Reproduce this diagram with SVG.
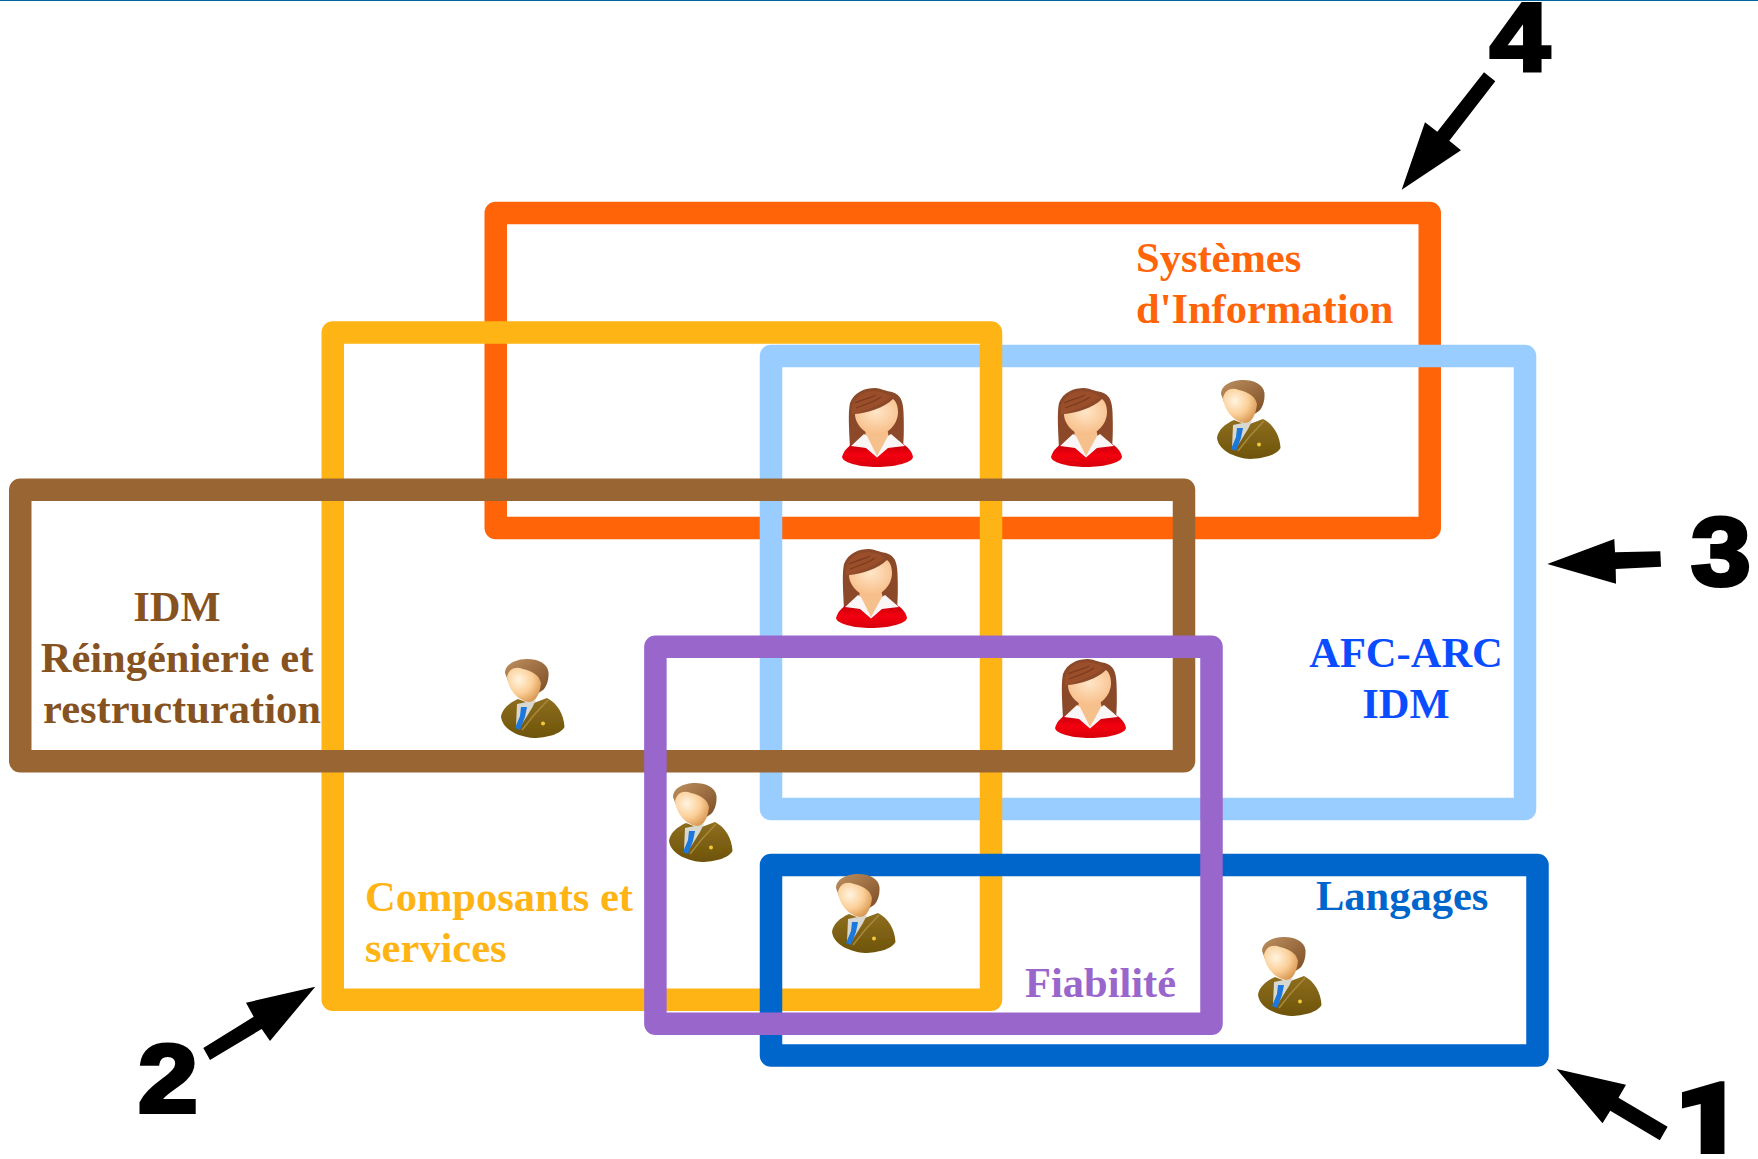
<svg xmlns="http://www.w3.org/2000/svg" xmlns:xlink="http://www.w3.org/1999/xlink" width="1758" height="1159" viewBox="0 0 1758 1159">
<style>
.box{fill:none;stroke-width:22.5;stroke-linejoin:round}
.lbl{font-family:"Liberation Serif","Times New Roman",serif;font-weight:bold;font-size:42.500px}
.num{font-family:"Liberation Sans",Arial,sans-serif;font-weight:bold;font-size:96px;fill:#000;stroke:#000;stroke-width:4}
.one{font-family:Roboto,"Liberation Sans",sans-serif;font-weight:900}
.arrow{fill:#000}
</style>
<defs>
<filter id="soft" x="-5%" y="-5%" width="110%" height="110%"><feGaussianBlur stdDeviation="0.5"/></filter>
<radialGradient id="skin" cx="0.35" cy="0.35" r="0.8"><stop offset="0" stop-color="#fff4e0"/><stop offset="0.5" stop-color="#fbcf98"/><stop offset="1" stop-color="#d08a40"/></radialGradient>
<radialGradient id="skinw" cx="0.5" cy="0.35" r="0.75"><stop offset="0" stop-color="#ffe6c8"/><stop offset="1" stop-color="#f6b67c"/></radialGradient>
<linearGradient id="red" x1="0" y1="0" x2="0" y2="1"><stop offset="0" stop-color="#b80008"/><stop offset="0.55" stop-color="#f40012"/><stop offset="1" stop-color="#d80008"/></linearGradient>
<linearGradient id="jacket" x1="0" y1="0" x2="0" y2="1"><stop offset="0" stop-color="#8e6e20"/><stop offset="1" stop-color="#6e5408"/></linearGradient>
<linearGradient id="mhair" x1="0" y1="0" x2="1" y2="1"><stop offset="0" stop-color="#bd9060"/><stop offset="1" stop-color="#7c4c24"/></linearGradient>
<g id="woman" filter="url(#soft)">
<path d="M8,60C7,40 6,24 8,15C12,4 23,0 33,0C38,0 43,3 50,4C59,7 61,13 61.500,24C62,36 62,50 61,60Z" fill="#8b4a2a"/>
<path d="M0,69C2,61 9,56 16,53L55,53C63,56 70,62 71,69C70,75 52,79 35,79C18,79 1,75 0,69Z" fill="url(#red)"/>
<path d="M24,40L45,40L47,50L35,69L23,50Z" fill="#f6c08c"/>
<path d="M22,46L9,58C14,59 20,59 24,60L35,69.500L46,60C51,59 57,59 63,58L49,46L46,48L35,68L25,48Z" fill="#fbf6f6"/>
<path d="M13,26C13,36 23,47 34,47C46,47 56,36 56,24C56,18 54,13 51,11C42,20 25,25 13,26Z" fill="url(#skinw)"/>
<path d="M10,27C20,23 36,19 49,9C43,4 33,2 24,4C14,7 8,17 10,27Z" fill="#9a4f2c"/>
<path d="M14,20C22,17 32,14 39,9M13,15C20,12 28,10 34,7" fill="none" stroke="#7c3a1f" stroke-width="1.200"/>
</g>
<g id="man" filter="url(#soft)">
<path d="M0,58C1,50 8,44 17,40L30,45L46,39C56,44 63,55 63.500,68C60,75 45,79 33,79C20,78 2,72 0,58Z" fill="url(#jacket)"/>
<path d="M16,45L35,41L31,49L18,70L15,68Z" fill="#d8d8d0"/>
<path d="M20,48L26,48L24,58L19,71L14,69L19,57Z" fill="#1a78dc"/>
<path d="M21,71L33,56L47,41" fill="none" stroke="#a8883c" stroke-width="1.500"/>
<circle cx="42" cy="64.500" r="2" fill="#f2c83c"/>
<path d="M4,14C4,5 15,0 26,0C37,0 46,4 47.500,13C48,22 45,28 42,31L36,35L7,22Z" fill="url(#mhair)"/>
<path d="M6,18C7,30 17,42 28,43C35,43 39,34 40,24C38,15 30,12 22,10C15,7 8,9 6,18Z" fill="url(#skin)"/>
</g>
</defs>
<rect width="1758" height="1159" fill="#fff"/>
<rect id="topline" width="1758" height="1" fill="#006699"/>
<g id="node-4"><rect class="box" x="495.750" y="213" width="934" height="315" stroke="#ff6409"/></g>
<g id="node-3"><rect class="box" x="771" y="356" width="754" height="453" stroke="#99ccff"/></g>
<g id="node-2"><rect class="box" x="332.750" y="332.400" width="658.250" height="667.400" stroke="#ffb415"/></g>
<g id="node-idm"><rect class="box" x="20.250" y="489.700" width="1163.750" height="271.600" stroke="#996633"/></g>
<g id="node-1"><rect class="box" x="771" y="865" width="766.500" height="190.500" stroke="#0066cc"/></g>
<g id="node-fiabilite"><rect class="box" x="655.400" y="646.800" width="556.100" height="377" stroke="#9966cc"/></g>
<g id="labels">
<text class="lbl" x="1136" y="272" fill="#ff6409">Systèmes</text>
<text class="lbl" x="1136" y="323" fill="#ff6409">d'Information</text>
<text class="lbl" x="1406" y="667" fill="#0a4cff" text-anchor="middle">AFC-ARC</text>
<text class="lbl" x="1406" y="718" fill="#0a4cff" text-anchor="middle">IDM</text>
<text class="lbl" x="177" y="621" fill="#86521f" text-anchor="middle">IDM</text>
<text class="lbl" x="177" y="672" fill="#86521f" text-anchor="middle">Réingénierie et</text>
<text class="lbl" x="182" y="723" fill="#86521f" text-anchor="middle">restructuration</text>
<text class="lbl" x="365" y="911" fill="#ffb415">Composants et</text>
<text class="lbl" x="365" y="962" fill="#ffb415">services</text>
<text class="lbl" x="1025" y="997" fill="#9966cc">Fiabilité</text>
<text class="lbl" x="1316" y="910" fill="#0066cc">Langages</text>
</g>
<g id="people">
<use xlink:href="#woman" href="#woman" x="842" y="388"/>
<use xlink:href="#woman" href="#woman" x="1051" y="388"/>
<use xlink:href="#woman" href="#woman" x="836" y="549"/>
<use xlink:href="#woman" href="#woman" x="1055" y="659"/>
<use xlink:href="#man" href="#man" x="1217" y="380"/>
<use xlink:href="#man" href="#man" x="501" y="659"/>
<use xlink:href="#man" href="#man" x="669" y="783"/>
<use xlink:href="#man" href="#man" x="832" y="874"/>
<use xlink:href="#man" href="#man" x="1258" y="937"/>
</g>
<g id="connectors">
<polygon class="arrow" points="203.300,1048 210,1060 261.700,1029 270,1041 315.300,986.700 246,1002.700 253.700,1016.700"/>
<polygon class="arrow" points="1484,72.300 1495.300,81.300 1449.300,140.700 1461,150.300 1401.700,189.700 1425,122.300 1437.300,131.700"/>
<polygon class="arrow" points="1556.600,1069 1626,1084.700 1618.500,1097.700 1667.600,1126.700 1659.800,1140.300 1610.300,1110.700 1602.500,1123.300"/>
<polygon class="arrow" points="1547.300,564 1614.300,539 1615,552.300 1660.300,551.300 1661,566.700 1615.700,569 1616,583.700"/>
</g>
<g id="numbers">
<text class="num one" transform="translate(1675 1152) scale(1.2 1)">1</text>
<text class="num" transform="translate(138 1112) scale(1.12 1)">2</text>
<text class="num" transform="translate(1691 585) scale(1.12 1)">3</text>
<text class="num" transform="translate(1490 71) scale(1.12 1)">4</text>
</g>
</svg>
